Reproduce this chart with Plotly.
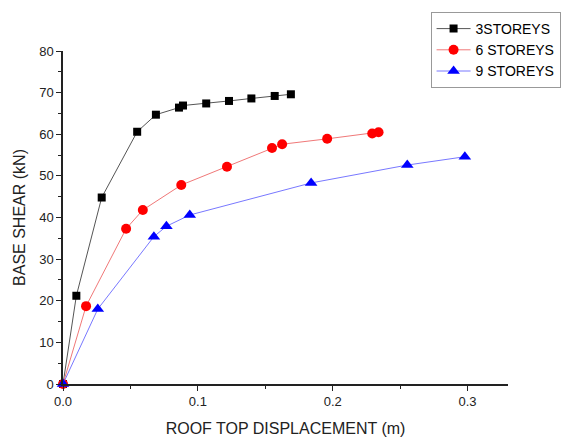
import plotly.graph_objects as go

x3 = [0, 0.0099, 0.0287, 0.055, 0.0689, 0.086, 0.089, 0.1062, 0.1231, 0.1397, 0.157, 0.169]
y3 = [0, 21.2, 44.8, 60.6, 64.7, 66.4, 66.9, 67.4, 68.0, 68.6, 69.2, 69.6]

x6 = [0, 0.0171, 0.0468, 0.0592, 0.0877, 0.1216, 0.155, 0.1625, 0.1959, 0.2293, 0.234]
y6 = [0, 18.7, 37.3, 41.8, 47.8, 52.2, 56.7, 57.6, 58.9, 60.2, 60.5]

x9 = [0, 0.0258, 0.0674, 0.0767, 0.094, 0.184, 0.2553, 0.298]
y9 = [0, 18.0, 35.4, 37.9, 40.6, 48.3, 52.6, 54.6]

names = ["3STOREYS", "6 STOREYS", "9 STOREYS"]

fig = go.Figure()
fig.add_trace(go.Scatter(x=x3, y=y3, name=names[0], mode="lines+markers",
                         line=dict(color="#555555", width=1),
                         marker=dict(symbol="square", size=8, color="black"),
                         cliponaxis=False))
fig.add_trace(go.Scatter(x=x6, y=y6, name=names[1], mode="lines+markers",
                         line=dict(color="#f07878", width=1),
                         marker=dict(symbol="circle", size=10, color="#ff0000"),
                         cliponaxis=False))
fig.add_trace(go.Scatter(x=x9, y=y9, name=names[2], mode="lines+markers",
                         line=dict(color="#7878ff", width=1),
                         marker=dict(symbol="triangle-up", size=11, color="#0000ff"),
                         cliponaxis=False))

font = "Liberation Sans, Arial, sans-serif"
fig.update_layout(
    width=574, height=437,
    margin=dict(l=63, r=66, t=44, b=53),
    paper_bgcolor="white", plot_bgcolor="white",
    font=dict(family=font, color="#222222"),
    showlegend=True,
    legend=dict(x=0.826, y=1.003, xanchor="left", yanchor="middle",
                bordercolor="#999999", borderwidth=1, bgcolor="white",
                font=dict(size=14, family=font, color="black"),
                tracegroupgap=0, itemwidth=34),
    xaxis=dict(range=[0, 0.33], tickvals=[0, 0.1, 0.2, 0.3],
               ticktext=["0.0", "0.1", "0.2", "0.3"], automargin=False,
               showgrid=False, zeroline=False, showline=True,
               linecolor="#222222", linewidth=1.5,
               ticks="outside", ticklen=5, tickwidth=1.2, tickcolor="#222222",
               minor=dict(tickvals=[0.05, 0.15, 0.25], ticks="outside", ticklen=3,
                          tickwidth=1.2, tickcolor="#222222"),
               tickfont=dict(size=13),
               title=dict(text="ROOF TOP DISPLACEMENT (m)", font=dict(size=16), standoff=15)),
    yaxis=dict(range=[0, 80], tickvals=list(range(0, 81, 10)), automargin=False,
               showgrid=False, zeroline=False, showline=True,
               linecolor="#222222", linewidth=1.5,
               ticks="outside", ticklen=5, tickwidth=1.2, tickcolor="#222222",
               minor=dict(tickvals=list(range(5, 80, 10)), ticks="outside", ticklen=3,
                          tickwidth=1.2, tickcolor="#222222"),
               tickfont=dict(size=13),
               title=dict(text="BASE SHEAR (kN)", font=dict(size=16), standoff=10)),
)

fig.write_html("out.html", config={"displayModeBar": False},
               post_script="document.body.style.margin='0px';")
